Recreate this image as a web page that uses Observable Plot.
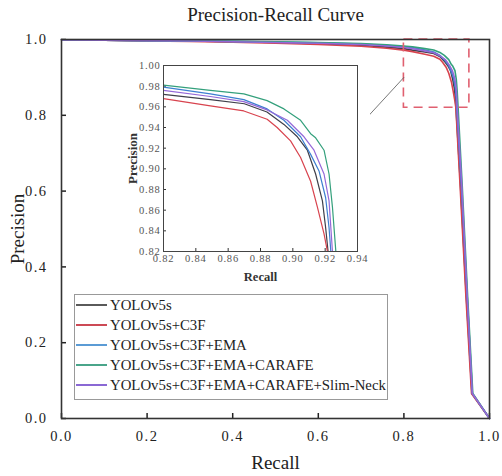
<!DOCTYPE html>
<html><head><meta charset="utf-8">
<script src="https://cdn.jsdelivr.net/npm/d3@7"></script>
<script src="https://cdn.jsdelivr.net/npm/@observablehq/plot@0.6"></script>
<style>
body{margin:0;background:#fff;}
#wrap{position:relative;width:502px;height:476px;font-family:"Liberation Serif",serif;}
#wrap svg, #wrap svg text{font-family:"Liberation Serif",serif;}
#inset{position:absolute;left:110px;top:50px;}
#legend{position:absolute;left:74px;top:294px;width:314px;height:106px;border:1px solid #999;background:#fff;box-sizing:border-box;}
.item{display:flex;align-items:center;height:20px;font-size:14.8px;color:#222;white-space:nowrap;}
.sw{width:31px;height:0;border-top:2px solid;margin:0 3px 0 1px;}
g[aria-label="x-axis tick label"] text, g[aria-label="y-axis tick label"] text{letter-spacing:1.5px;}
#inset g[aria-label="x-axis tick label"] text, #inset g[aria-label="y-axis tick label"] text{letter-spacing:0.8px;fill:#555;}
</style></head><body><div id="wrap"></div>
<script>
// ---- data ----
const seriesNames = ["YOLOv5s","YOLOv5s+C3F","YOLOv5s+C3F+EMA","YOLOv5s+C3F+EMA+CARAFE","YOLOv5s+C3F+EMA+CARAFE+Slim-Neck"];
const seriesColors = ["#3f3f4a","#d8434e","#3d7fd0","#34a07c","#9468d8"];
const legendColors = ["#5a5a5a","#cc4a55","#5b9bd5","#4aa58a","#8a68d4"];

const recallV5s    = [0,0.1,0.2,0.3,0.4,0.5,0.6,0.7,0.76,0.8,0.82,0.849,0.870,0.884,0.8945,0.9028,0.909,0.9141,0.9183,0.9203,0.9218,0.932,0.946,0.959,1.0];
const precisionV5s = [0.999,0.998,0.997,0.996,0.994,0.992,0.989,0.985,0.980,0.976,0.972,0.967,0.963,0.955,0.943,0.931,0.918,0.895,0.869,0.843,0.820,0.62,0.32,0.066,0.0];

const recallC3F    = [0,0.1,0.2,0.3,0.4,0.5,0.6,0.7,0.76,0.8,0.82,0.849,0.8697,0.8841,0.8903,0.8986,0.9048,0.911,0.9152,0.9193,0.9214,0.931,0.945,0.958,1.0];
const precisionC3F = [0.999,0.998,0.996,0.995,0.993,0.990,0.987,0.982,0.977,0.972,0.968,0.961,0.956,0.948,0.940,0.927,0.911,0.888,0.863,0.837,0.820,0.62,0.32,0.066,0.0];

const recallEMA    = [0,0.1,0.2,0.3,0.4,0.5,0.6,0.7,0.76,0.8,0.82,0.849,0.8697,0.8841,0.8945,0.9048,0.911,0.9162,0.9203,0.9224,0.9235,0.934,0.948,0.96,1.0];
const precisionEMA = [0.999,0.998,0.997,0.996,0.995,0.993,0.991,0.988,0.984,0.981,0.979,0.9725,0.967,0.958,0.947,0.931,0.914,0.898,0.872,0.843,0.820,0.62,0.32,0.066,0.0];

const recallCARAFE    = [0,0.1,0.2,0.3,0.4,0.5,0.6,0.7,0.76,0.8,0.82,0.849,0.8697,0.8841,0.8945,0.9048,0.911,0.9141,0.9193,0.9224,0.9245,0.9266,0.936,0.949,0.961,1.0];
const precisionCARAFE = [0.999,0.998,0.997,0.996,0.995,0.994,0.992,0.989,0.986,0.983,0.981,0.976,0.9725,0.966,0.958,0.947,0.934,0.930,0.918,0.895,0.863,0.820,0.62,0.32,0.066,0.0];

const recallSlim    = [0,0.1,0.2,0.3,0.4,0.5,0.6,0.7,0.76,0.8,0.82,0.849,0.8697,0.8841,0.8966,0.9069,0.9131,0.9193,0.9224,0.9245,0.935,0.948,0.96,1.0];
const precisionSlim = [0.999,0.998,0.997,0.996,0.994,0.992,0.990,0.987,0.983,0.979,0.976,0.970,0.965,0.957,0.947,0.931,0.918,0.895,0.869,0.820,0.62,0.32,0.066,0.0];

const mainTicks = [0,0.2,0.4,0.6,0.8,1.0];
const insetXTicks = [0.82,0.84,0.86,0.88,0.90,0.92,0.94];
const insetYTicks = [0.82,0.84,0.86,0.88,0.90,0.92,0.94,0.96,0.98,1.00];
const insetXDomain = [0.82,0.94];
const insetYDomain = [0.82,1.00];
const zoomBoxRecall = [0.8,0.953];
const zoomBoxPrecision = [0.82,1.0];
const arrowFrom = [0.8,0.9];
const arrowTo = [0.703,0.781];

// ---- build table ----
const recalls = [recallV5s,recallC3F,recallEMA,recallCARAFE,recallSlim];
const precisions = [precisionV5s,precisionC3F,precisionEMA,precisionCARAFE,precisionSlim];
const rows = [];
seriesNames.forEach((name,i)=>{
  recalls[i].forEach((r,j)=>rows.push({series:name,recall:r,precision:precisions[i][j]}));
});
const font = "Liberation Serif";

const main = Plot.plot({
  width:502,height:476,marginLeft:61,marginRight:13,marginTop:39,marginBottom:58,
  style:{fontFamily:font,background:"white",color:"#222"},
  x:{domain:[0,1]}, y:{domain:[0,1]},
  color:{domain:seriesNames,range:seriesColors},
  marks:[
    Plot.axisX({ticks:mainTicks,tickFormat:d=>d.toFixed(1),tickSize:-5,tickPadding:17,fontSize:14.5,fontFamily:font,label:null,strokeWidth:1.5}),
    Plot.axisY({ticks:mainTicks,tickFormat:d=>d.toFixed(1),tickSize:-5,tickPadding:19,fontSize:14.5,fontFamily:font,label:null,strokeWidth:1.5}),
    Plot.line(rows,{x:"recall",y:"precision",z:"series",stroke:"series",strokeWidth:1.6}),
    Plot.rect([{x1:zoomBoxRecall[0],x2:zoomBoxRecall[1],y1:zoomBoxPrecision[0],y2:zoomBoxPrecision[1]}],
      {x1:"x1",x2:"x2",y1:"y1",y2:"y2",fill:"none",stroke:"#e06070",strokeWidth:1.6,strokeDasharray:"9,6"}),
    Plot.arrow([{x1:arrowFrom[0],y1:arrowFrom[1],x2:arrowTo[0],y2:arrowTo[1]}],
      {x1:"x1",y1:"y1",x2:"x2",y2:"y2",stroke:"#555",strokeWidth:0.8,headLength:9}),
    Plot.frame({stroke:"#333",strokeWidth:1.6}),
    Plot.text(["Precision-Recall Curve"],{text:d=>d,frameAnchor:"top",lineAnchor:"middle",dy:-25,fontSize:19,fontFamily:font}),
    Plot.text(["Precision"],{text:d=>d,frameAnchor:"left",textAnchor:"middle",lineAnchor:"middle",rotate:-90,dx:-44,fontSize:19,fontFamily:font}),
    Plot.text(["Recall"],{text:d=>d,frameAnchor:"bottom",lineAnchor:"middle",dy:44,fontSize:19,fontFamily:font})
  ]
});

const inset = Plot.plot({
  width:260,height:240,marginLeft:53,marginRight:13,marginTop:15,marginBottom:39,
  style:{fontFamily:font,background:"white",color:"#333"},
  x:{domain:insetXDomain}, y:{domain:insetYDomain},
  color:{domain:seriesNames,range:seriesColors},
  marks:[
    Plot.axisX({ticks:insetXTicks,tickFormat:d=>d.toFixed(2),tickSize:-3,tickPadding:6,fontSize:10.5,fontFamily:font,label:null}),
    Plot.axisY({ticks:insetYTicks,tickFormat:d=>d.toFixed(2),tickSize:-3,tickPadding:6,fontSize:10.5,fontFamily:font,label:null}),
    Plot.line(rows,{x:"recall",y:"precision",z:"series",stroke:"series",strokeWidth:1.2,clip:true}),
    Plot.frame({stroke:"#444",strokeWidth:1}),
    Plot.text(["Precision"],{text:d=>d,frameAnchor:"left",textAnchor:"middle",lineAnchor:"middle",rotate:-90,dx:-31,fontSize:13,fontWeight:"bold",fontFamily:font}),
    Plot.text(["Recall"],{text:d=>d,frameAnchor:"bottom",lineAnchor:"middle",dy:25,fontSize:12.5,fontWeight:"bold",fontFamily:font})
  ]
});
inset.id = "inset";

const wrap = document.getElementById("wrap");
wrap.appendChild(main);
wrap.appendChild(inset);

const legend = document.createElement("div");
legend.id = "legend";
seriesNames.forEach((name,i)=>{
  const item = document.createElement("div");
  item.className = "item";
  const sw = document.createElement("span");
  sw.className = "sw";
  sw.style.borderTopColor = legendColors[i];
  item.appendChild(sw);
  item.appendChild(document.createTextNode(name));
  legend.appendChild(item);
});
wrap.appendChild(legend);
</script></body></html>
